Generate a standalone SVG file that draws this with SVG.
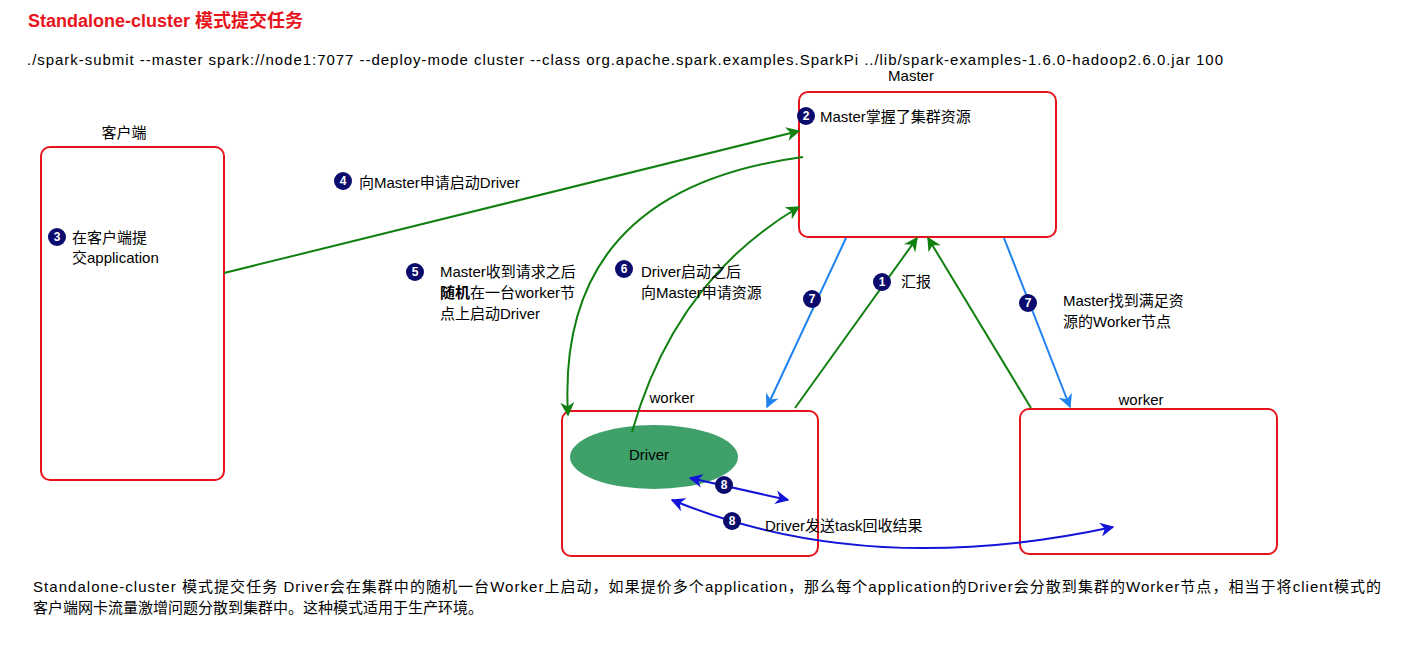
<svg xmlns="http://www.w3.org/2000/svg" width="1401" height="652" viewBox="0 0 1401 652">
<style>
text{font-family:"Liberation Sans","Noto Sans CJK SC",sans-serif;font-size:15px;fill:#000}
.box{fill:#fff;stroke:#e8141c;stroke-width:2}
.g{fill:none;stroke:#118011;stroke-width:2}
.b{fill:none;stroke:#1e82f0;stroke-width:2}
.d{fill:none;stroke:#1414d8;stroke-width:2}
.bd circle{fill:#0b0b6e}
.bd text{fill:#fff;font-size:12px;font-weight:bold;text-anchor:middle}
</style>
<defs>
<marker id="ag" viewBox="0 0 10 10" refX="9" refY="5" markerWidth="7" markerHeight="7" orient="auto-start-reverse"><path d="M0,0L10,5L0,10L3,5z" fill="#118011"/></marker>
<marker id="ab" viewBox="0 0 10 10" refX="9" refY="5" markerWidth="7" markerHeight="7" orient="auto-start-reverse"><path d="M0,0L10,5L0,10L3,5z" fill="#1e82f0"/></marker>
<marker id="ad" viewBox="0 0 10 10" refX="9" refY="5" markerWidth="7" markerHeight="7" orient="auto-start-reverse"><path d="M0,0L10,5L0,10L3,5z" fill="#1414d8"/></marker>
</defs>
<rect width="1401" height="652" fill="#fff"/>
<text x="28" y="27" style="fill:#e8141c;font-size:18px;font-weight:bold">Standalone-cluster 模式提交任务</text>
<text x="27" y="65" textLength="1196">./spark-submit --master spark://node1:7077 --deploy-mode cluster --class org.apache.spark.examples.SparkPi ../lib/spark-examples-1.6.0-hadoop2.6.0.jar 100</text>
<g id="client"><rect class="box" x="41" y="147" width="183" height="333" rx="9"/><text x="124" y="138" text-anchor="middle">客户端</text><text x="72" y="243">在客户端提</text><text x="72" y="263">交application</text></g>
<g id="master"><rect class="box" x="799" y="92" width="257" height="145" rx="9"/><text x="911" y="81" text-anchor="middle">Master</text><text x="820" y="122">Master掌握了集群资源</text></g>
<g id="worker1"><rect class="box" x="562" y="411" width="256" height="145" rx="9"/><text x="672" y="403" text-anchor="middle">worker</text></g>
<g id="worker2"><rect class="box" x="1020" y="409" width="257" height="145" rx="9"/><text x="1141" y="405" text-anchor="middle">worker</text></g>
<g id="driver"><ellipse cx="654" cy="457" rx="84" ry="32" fill="#3fa06a"/><text x="649" y="460" text-anchor="middle">Driver</text></g>
<g id="connectors">
<path class="g" d="M224,273L799,131" marker-end="url(#ag)"/>
<path class="g" d="M803,157Q555,190 568,415" marker-end="url(#ag)"/>
<path class="g" d="M632,432Q675,280 799,207" marker-end="url(#ag)"/>
<path class="b" d="M846,238L767,407" marker-end="url(#ab)"/>
<path class="g" d="M795,408L917,238" marker-end="url(#ag)"/>
<path class="g" d="M1031,408L928,238" marker-end="url(#ag)"/>
<path class="b" d="M1004,238L1070,407" marker-end="url(#ab)"/>
<path class="d" d="M690,478L788,500" marker-start="url(#ad)" marker-end="url(#ad)"/>
<path class="d" d="M672,500Q867,580 1113,527" marker-start="url(#ad)" marker-end="url(#ad)"/>
</g>
<g id="labels">
<text x="359" y="188">向Master申请启动Driver</text>
<text x="440" y="277">Master收到请求之后</text>
<text x="440" y="298"><tspan font-weight="bold">随机</tspan>在一台worker节</text>
<text x="440" y="319">点上启动Driver</text>
<text x="641" y="277">Driver启动之后</text>
<text x="641" y="298">向Master申请资源</text>
<text x="901" y="287">汇报</text>
<text x="1063" y="306">Master找到满足资</text>
<text x="1063" y="327">源的Worker节点</text>
<text x="765" y="531">Driver发送task回收结果</text>
<text x="33" y="592" textLength="1348">Standalone-cluster 模式提交任务 Driver会在集群中的随机一台Worker上启动，如果提价多个application，那么每个application的Driver会分散到集群的Worker节点，相当于将client模式的</text>
<text x="33" y="613">客户端网卡流量激增问题分散到集群中。这种模式适用于生产环境。</text>
</g>
<g class="bd">
<g id="b1"><circle cx="882" cy="282" r="9"/><text x="882" y="286">1</text></g>
<g id="b2"><circle cx="806" cy="116" r="9"/><text x="806" y="120">2</text></g>
<g id="b3"><circle cx="57" cy="237" r="9"/><text x="57" y="241">3</text></g>
<g id="b4"><circle cx="343" cy="181" r="9"/><text x="343" y="185">4</text></g>
<g id="b5"><circle cx="415" cy="272" r="9"/><text x="415" y="276">5</text></g>
<g id="b6"><circle cx="624" cy="269" r="9"/><text x="624" y="273">6</text></g>
<g id="b7a"><circle cx="812" cy="299" r="9"/><text x="812" y="303">7</text></g>
<g id="b7b"><circle cx="1028" cy="303" r="9"/><text x="1028" y="307">7</text></g>
<g id="b8a"><circle cx="724" cy="485" r="9"/><text x="724" y="489">8</text></g>
<g id="b8b"><circle cx="732" cy="521" r="9"/><text x="732" y="525">8</text></g>
</g>
</svg>
